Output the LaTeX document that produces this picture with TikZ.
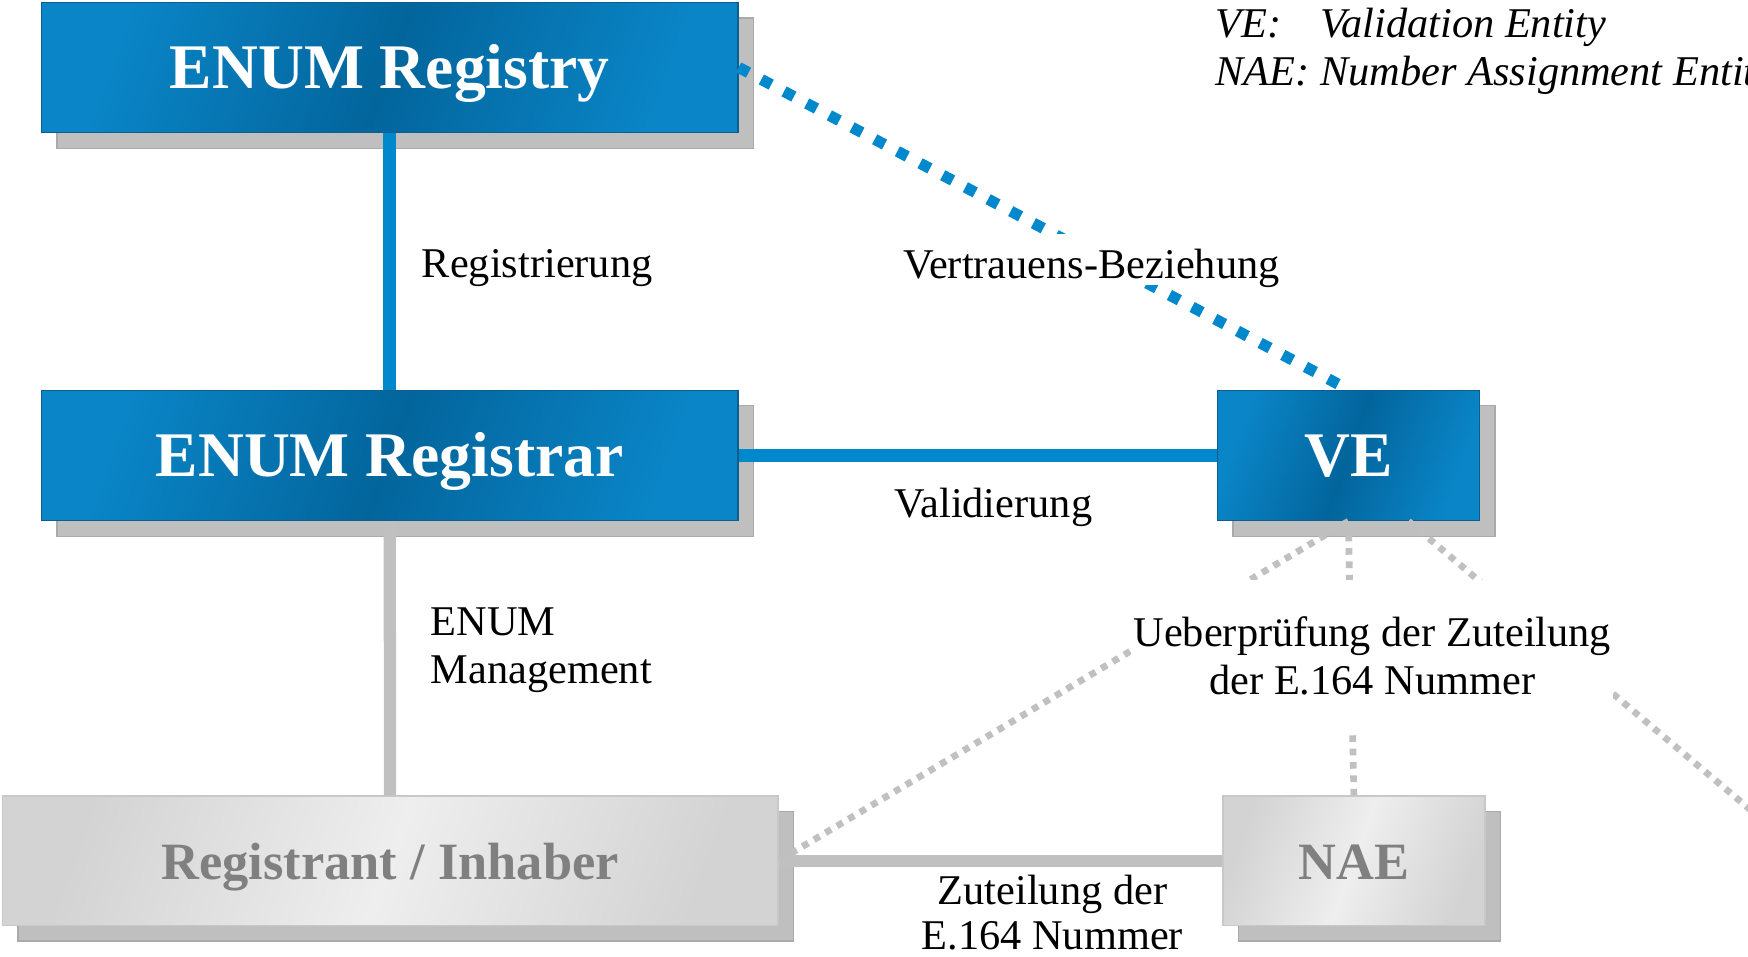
\documentclass[tikz,border=0pt]{standalone}
\usepackage{fontspec}
\setmainfont{Liberation Serif}
\usepackage{xcolor}
\usepackage{tikz}
\usetikzlibrary{shadows}

\definecolor{boxblue}{HTML}{0A86C8}
\definecolor{boxdark}{HTML}{03659C}
\definecolor{boxedge}{HTML}{0B5E8E}
\definecolor{lineblue}{HTML}{0088CC}
\definecolor{shadowgray}{HTML}{BFBFBF}
\definecolor{shadowedge}{HTML}{AAAAAA}
\definecolor{boxlight}{HTML}{EEEEEE}
\definecolor{boxgray}{HTML}{D3D3D3}
\definecolor{grayedge}{HTML}{C8C8C8}
\definecolor{graytext}{HTML}{808080}
\definecolor{linegray}{HTML}{C0C0C0}

\tikzset{
  entity/.style={rectangle, inner sep=0pt, line width=0.6pt, text depth=0pt,
    drop shadow={shadow xshift=7pt, shadow yshift=-7pt, fill=shadowgray,
      draw=shadowedge, line width=0.6pt, opacity=1}},
  bluebox/.style={entity, draw=boxedge, left color=boxblue, right color=boxblue,
    middle color=boxdark, shading angle=70,
    text=white, font=\fontsize{28.5pt}{30pt}\selectfont\bfseries,
    text height=19pt, minimum height=58.5pt},
  graybox/.style={entity, draw=grayedge, left color=boxgray, right color=boxgray,
    middle color=boxlight, shading angle=70,
    text=graytext, font=\fontsize{23.5pt}{25pt}\selectfont\bfseries,
    text height=17pt, minimum height=58pt},
  conn/.style={line width=5.5pt},
  trustline/.style={line width=5pt, lineblue, dash pattern=on 5pt off 6.5pt},
  checkline/.style={line width=3pt, linegray, dash pattern=on 3pt off 3pt},
  lbl/.style={font=\fontsize{19pt}{21.5pt}\selectfont, inner sep=0pt}
}

\begin{document}
\begin{tikzpicture}[x=0.5pt,y=-0.5pt]
    \path[use as bounding box, clip] (0,0) rectangle (1568,858);
    \node[bluebox, minimum width=312.5pt] (registry) at (349.5,60.5) {ENUM Registry};
    \node[bluebox, minimum width=312.5pt] (registrar) at (349.5,408.5) {ENUM Registrar};
    \node[bluebox, minimum width=117.5pt] (ve) at (1209.5,408.5) {VE};
    \node[graybox, minimum width=348pt] (registrant) at (350,772) {Registrant / Inhaber};
    \node[graybox, minimum width=117.5pt] (nae) at (1214.5,772) {NAE};
    \coordinate (veright) at ([xshift=27pt]ve.south);
    \coordinate (farright) at (1700,836);
    \draw[conn, lineblue] (registry) -- (registrar);
    \draw[conn, lineblue] (registrar) -- (ve);
    \draw[conn, linegray] (registrar) -- (registrant);
    \draw[conn, linegray] (registrant) -- (nae);
    \draw[trustline] (registry.east) -- (ve.north);
    \draw[checkline] (ve.south) -- (registrant.east);
    \draw[checkline] (ve.south) -- (nae.north);
    \draw[checkline] (veright) -- (farright);
    \node[lbl, anchor=base west] (regtext) at (378,249) {Registrierung};
    \node[lbl, anchor=base, fill=white, inner xsep=2pt, text height=20pt, text depth=3pt] (trusttext) at (979,249.5) {Vertrauens-Beziehung};
    \node[lbl, anchor=base west] (valtext) at (802,464) {Validierung};
    \node[lbl, anchor=north west, align=left] (mgmttext) at (386,545) {ENUM\\Management};
    \node[lbl, fill=white, align=center, inner xsep=1pt, inner ysep=16.5pt] (checktext) at (1231,588) {Ueberprüfung der Zuteilung\\der E.164 Nummer};
    \node[lbl, anchor=north, align=center, font=\fontsize{19pt}{20pt}\selectfont] (assigntext) at (944,785) {Zuteilung der\\E.164 Nummer};
    \node[lbl, anchor=north west, align=left, font=\fontsize{19pt}{21.5pt}\selectfont\itshape] (legend) at (1090,7) {\makebox[2.47em][l]{VE:}Validation Entity\\NAE: Number Assignment Entity};
\end{tikzpicture}
\end{document}
